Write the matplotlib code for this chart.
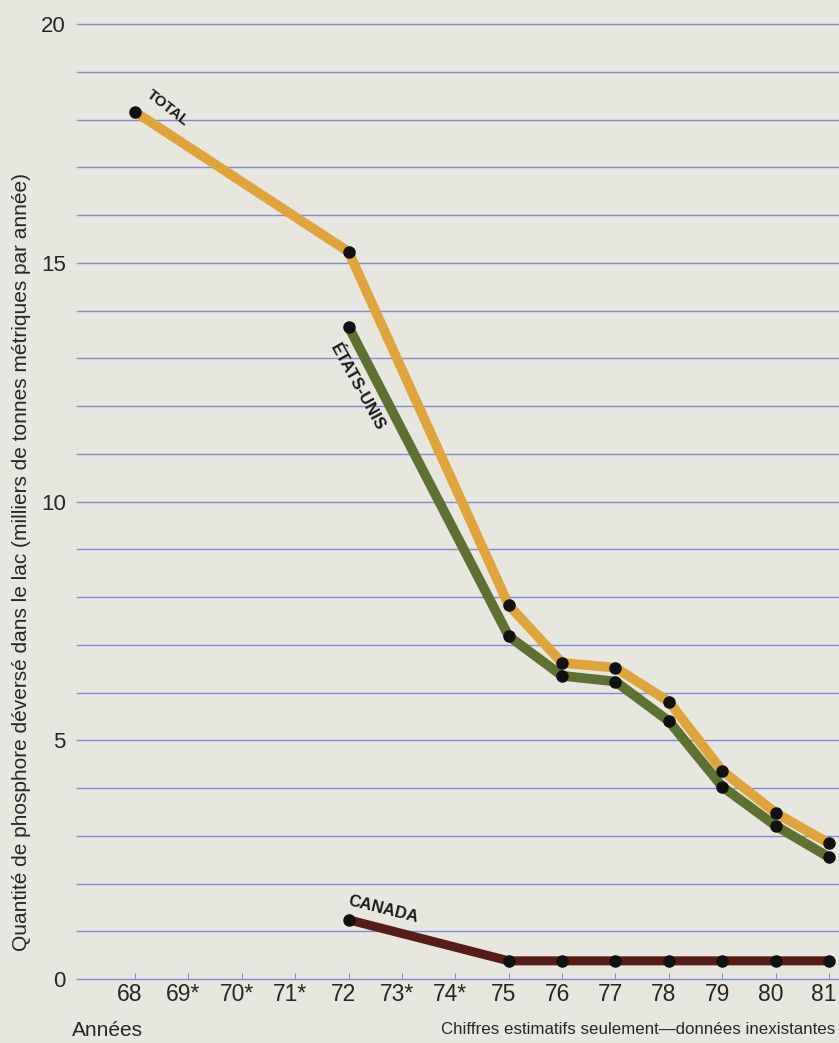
import matplotlib
matplotlib.use("Agg")
import matplotlib.pyplot as plt
import matplotlib.transforms as mtransforms

# Values (thousands of metric tons per year)
years_total = [68, 72, 75, 76, 77, 78, 79, 80, 81]
total = [18.16, 15.23, 7.83, 6.62, 6.52, 5.81, 4.36, 3.48, 2.84]

years_us = [72, 75, 76, 77, 78, 79, 80, 81]
usa = [13.66, 7.18, 6.35, 6.23, 5.40, 4.03, 3.21, 2.55]

years_ca = [72, 75, 76, 77, 78, 79, 80, 81]
canada = [1.24, 0.38, 0.38, 0.38, 0.38, 0.38, 0.38, 0.38]

tick_years = list(range(68, 82))
tick_labels = ["68", "69*", "70*", "71*", "72", "73*", "74*",
               "75", "76", "77", "78", "79", "80", "81"]
y_ticks = [0, 5, 10, 15, 20]

BG = "#e8e7df"
GRID = "#7f8bd2"
TXT = "#262626"

plt.rcParams["font.family"] = ["Liberation Sans", "DejaVu Sans"]

W, H = 839, 1043
fig = plt.figure(figsize=(W / 100, H / 100), dpi=100, facecolor=BG)

# axes placed so that y=0 sits at pixel 979 and y=20 at pixel 24
left, right = 77, 839
bottom, top = 979, 24
ax = fig.add_axes([left / W, (H - bottom) / H, (right - left) / W, (bottom - top) / H])
ax.set_facecolor(BG)
ax.set_ylim(0, 20)
px_per_year = (829 - 135) / 13
ax.set_xlim(68 - (135 - left) / px_per_year, 81 + (right - 829) / px_per_year)

for s in ax.spines.values():
    s.set_visible(False)

# horizontal rules, one per unit
for v in range(0, 21):
    ax.axhline(v, color=GRID, lw=1.0, zorder=1, clip_on=False)

ax.set_yticks(y_ticks)
ax.set_yticklabels([str(v) for v in y_ticks])
ax.set_xticks(tick_years)
ax.set_xticklabels(tick_labels)
ax.tick_params(axis="y", length=0, pad=8, labelsize=16, labelcolor=TXT)
ax.tick_params(axis="x", direction="in", length=4, width=0.8, color=GRID,
               pad=3, labelsize=16.5, labelcolor=TXT)
# labels sit a little left of their ticks in the original
shift = mtransforms.ScaledTranslation(-5 / 100, 0, fig.dpi_scale_trans)
for lbl in ax.get_xticklabels():
    lbl.set_transform(lbl.get_transform() + shift)

# series
ax.plot(years_total, total, color="#dfa43c", lw=7, solid_capstyle="round",
        solid_joinstyle="round", zorder=3, clip_on=False)
ax.plot(years_us, usa, color="#5f7132", lw=7, solid_capstyle="round",
        solid_joinstyle="round", zorder=4, clip_on=False)
ax.plot(years_ca, canada, color="#561d16", lw=6.5, solid_capstyle="round",
        solid_joinstyle="round", zorder=4, clip_on=False)
for xs, ys in [(years_total, total), (years_us, usa), (years_ca, canada)]:
    ax.plot(xs, ys, ls="none", marker="o", ms=8, color="#111111",
            zorder=5, clip_on=False)

# series labels
lab = dict(fontweight="bold", color="#1a1a1a",
           ha="center", va="center", rotation_mode="anchor")
ax.text(68.62, 18.25, "TOTAL", rotation=-38, fontsize=11, **lab)
ax.text(72.17, 12.4, "ÉTATS-UNIS", rotation=-61, fontsize=12, **lab)
ax.text(72.65, 1.45, "CANADA", rotation=-14, fontsize=12, **lab)

fig.text(22 / W, 1 - 562 / H,
         "Quantité de phosphore déversé dans le lac (milliers de tonnes métriques par année)",
         fontsize=15, color=TXT, rotation=90, ha="center", va="center")

fig.text(72 / W, 1 - 1030 / H, "Années", fontsize=15, color=TXT, va="center", ha="left")
fig.text(835 / W, 1 - 1030 / H, "Chiffres estimatifs seulement—données inexistantes",
         fontsize=12.2, color=TXT, va="center", ha="right")

fig.savefig("out.png", dpi=100, facecolor=BG)
